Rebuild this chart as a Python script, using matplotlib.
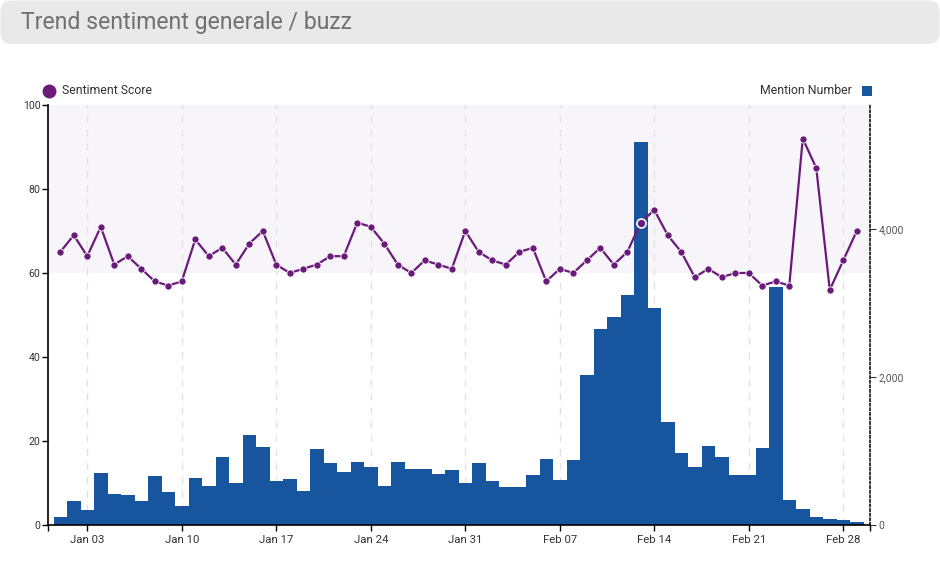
import matplotlib
matplotlib.use("Agg")
import matplotlib.pyplot as plt
import matplotlib.dates as mdates
import matplotlib.transforms as mtransforms
from matplotlib.patches import FancyBboxPatch, Rectangle
from matplotlib.lines import Line2D
import pandas as pd
import numpy as np

# ---------------- data ----------------
dates = pd.date_range("2016-01-01", "2016-02-29", freq="D")

sentiment = [65, 69, 64, 71, 62, 64, 61, 58, 57, 58, 68, 64, 66, 62, 67, 70,
             62, 60, 61, 62, 64, 64, 72, 71, 67, 62, 60, 63, 62, 61, 70,
             65, 63, 62, 65, 66, 58, 61, 60, 63, 66, 62, 65, 72, 75, 69, 65,
             59, 61, 59, 60, 60, 57, 58, 57, 92, 85, 56, 63, 70]

mentions = [104, 326, 204, 710, 421, 407, 326, 665, 444, 262, 642, 529, 919,
            570, 1217, 1054, 597, 624, 457, 1035, 845, 715, 855, 791, 525, 855,
            764, 760, 696, 750, 574,
            837, 597, 512, 520, 682, 891, 611, 878, 2035, 2659, 2813, 3111,
            5179, 2931, 1393, 973, 787, 1072, 919, 674, 674, 1041, 3225, 343,
            221, 109, 77, 64, 37]

highlight_date = pd.Timestamp("2016-02-13")

left_ticks = [0, 20, 40, 60, 80, 100]
right_ticks = [0, 2000, 4000]
band_range = (60, 100)

title = "Trend sentiment generale / buzz"
line_label = "Sentiment Score"
bar_label = "Mention Number"

# ---------------- style ----------------
W, H = 940, 569
LINE_C = "#6a1b7a"
BAR_C = "#17559f"
BAND_C = "#f7f5f9"
GRID_C = "#e2e2e2"
FONT = "Roboto"

plt.rcParams["font.family"] = [FONT, "DejaVu Sans"]

fig = plt.figure(figsize=(W / 100, H / 100), dpi=100)

def fx(x):
    return x / W

def fy(y):
    return 1 - y / H

L, R, T, B = 47.7, 870.0, 105.0, 525.0
ax = fig.add_axes([fx(L), fy(B), fx(R) - fx(L), fy(T) - fy(B)])
ax2 = ax.twinx()
ax.set_zorder(ax2.get_zorder() + 1)
ax.patch.set_visible(False)

# x limits
x0 = mdates.date2num(dates[0]) - 0.93
x1 = mdates.date2num(dates[-1]) + 0.98
ax.set_xlim(x0, x1)

# band (in sentiment units) drawn on lower axes
band_tr = mtransforms.blended_transform_factory(ax2.transAxes, ax.transData)
ax2.add_patch(Rectangle((0, band_range[0]), 1, band_range[1] - band_range[0],
                        transform=band_tr, facecolor=BAND_C, edgecolor="none",
                        zorder=0))

# bars
ax2.bar(dates, mentions, width=1.0, color=BAR_C, linewidth=0, zorder=2)
ax2.set_ylim(0, 5685)

# grid
ax2.xaxis.set_major_locator(mdates.WeekdayLocator(byweekday=mdates.SU))
for t in ax2.get_xticks():
    ax2.axvline(t, color=GRID_C, lw=1.0, ls=(0, (5, 5)), zorder=1)

# line
ax.plot(dates, sentiment, color=LINE_C, lw=1.6, marker="o", ms=5.2,
        mfc=LINE_C, mec="white", mew=0.6, zorder=3)
hi = list(dates).index(highlight_date)
ax.plot([dates[hi]], [sentiment[hi]], marker="o", ms=6.5, mfc=LINE_C,
        mec="white", mew=1.2, ls="none", zorder=4)
ax.set_ylim(0, 100)

# axes styling
ax.xaxis.set_major_locator(mdates.WeekdayLocator(byweekday=mdates.SU))
ax.xaxis.set_major_formatter(mdates.DateFormatter("%b %d"))
ax.set_xticks([x0, x1], minor=True)
ax.set_yticks(left_ticks)
ax.set_yticklabels([str(v) for v in left_ticks])
ax2.set_yticks(right_ticks)
ax2.set_yticklabels([f"{v:,}" for v in right_ticks])

for s in ["top", "right"]:
    ax.spines[s].set_visible(False)
for s in ["top", "left", "bottom"]:
    ax2.spines[s].set_visible(False)
ax.spines["left"].set_color("black")
ax.spines["left"].set_linewidth(1.2)
ax.spines["bottom"].set_color("black")
ax.spines["bottom"].set_linewidth(1.2)
ax2.spines["right"].set_linestyle((0, (1.5, 1.5)))
ax2.spines["right"].set_linewidth(1.1)
ax2.spines["right"].set_color("black")

ax.tick_params(axis="x", which="both", direction="out", length=4.3, width=1,
               color="black", labelsize=8.2, labelcolor="#333333", pad=3)
ax.tick_params(axis="y", direction="out", length=4.3, width=1, color="black",
               labelsize=7.6, labelcolor="#333333", pad=1)
ax2.tick_params(axis="y", direction="out", length=4.3, width=0.8,
                color="#333333", labelsize=7.4, labelcolor="#555555", pad=2)
ax2.tick_params(axis="x", which="both", length=0, labelbottom=False)

# title box
idt = mtransforms.IdentityTransform()
box = FancyBboxPatch((0.5, H - 44), W - 1, 43.5,
                     boxstyle="round,pad=0,rounding_size=11",
                     transform=idt, facecolor="#e9e9e9", edgecolor="none")
fig.add_artist(box)
fig.text(fx(21), fy(22), title, fontsize=16.6, color="#707070",
         fontweight="normal", va="center", ha="left")

# legends
fig.add_artist(Line2D([fx(48.5)], [fy(90.5)], marker="o", ms=9,
                      color=LINE_C, mec=LINE_C, ls="none",
                      transform=fig.transFigure))
fig.text(fx(62), fy(90.5), line_label, fontsize=8.8, color="#333333",
         va="center", ha="left")
fig.add_artist(Rectangle((fx(862), fy(95.5)), fx(10), fy(85.5) - fy(95.5),
                         transform=fig.transFigure, facecolor=BAR_C,
                         edgecolor="none"))
fig.text(fx(852), fy(90.5), bar_label, fontsize=8.8, color="#333333",
         va="center", ha="right")

fig.savefig("out.png", dpi=100)
